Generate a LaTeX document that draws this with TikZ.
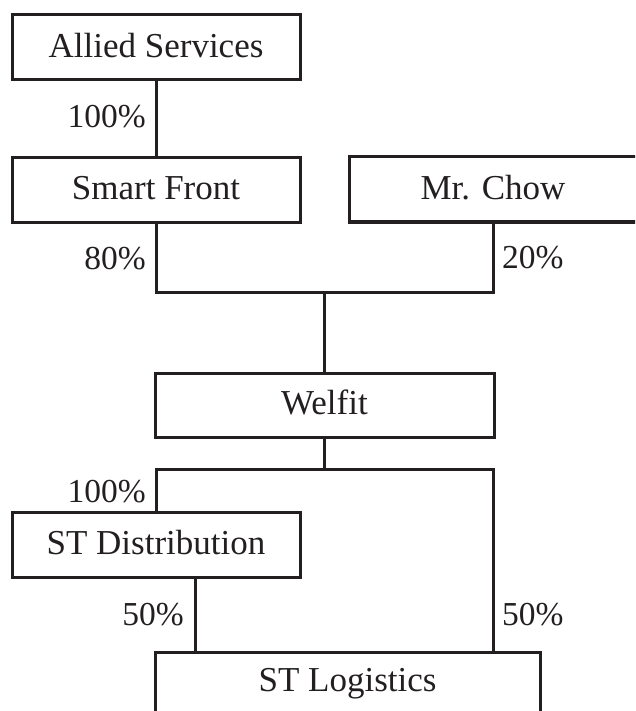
\documentclass[tikz,border=0pt]{standalone}
\usepackage{fontspec}
\setmainfont{Liberation Serif}
\definecolor{ink}{HTML}{231F20}
\begin{document}
\begin{tikzpicture}[x=1pt,y=-1pt,
  box/.style={draw=ink, line width=3pt, minimum width=288pt, minimum height=65pt, inner sep=0pt,
    text=ink, font=\fontsize{35}{42}\selectfont, text height=23.2pt, text depth=3.5pt},
  pct/.style={inner sep=0pt, text=ink, font=\fontsize{33.5}{40}\selectfont},
  link/.style={draw=ink, line width=3pt}]
\useasboundingbox (0,0) rectangle (635,711);
\clip (0,0) rectangle (635,711);
\node[box] (allied) at (156,47.5) {Allied Services};
\node[box] (smart) at (156,190) {Smart Front};
\node[box] (chow) at (493,189.5) {Mr. Chow};
\node[box, minimum width=339pt, minimum height=64pt] (welfit) at (324.5,405) {Welfit};
\node[box] (stdist) at (156,544.5) {ST Distribution};
\node[box, minimum width=385pt, minimum height=60pt] (stlog) at (347.5,682) {ST Logistics};
\coordinate (j1) at (324.5,292);
\coordinate (j2) at (324.5,469);
\coordinate (dr) at (493,469);
\coordinate (ds) at (195,577);
\draw[link] (allied.south) -- (smart.north);
\draw[link] (smart.south) |- (j1) -| (chow.south);
\draw[link] (j1) -- (welfit.north);
\draw[link] (welfit.south) -- (j2);
\draw[link] (stdist.north) |- (dr) -- (dr |- stlog.north);
\draw[link] (stdist.south -| ds) -- (ds |- stlog.north);
\node[pct, anchor=base east] (p1) at (146,128) {100\%};
\node[pct, anchor=base east] (p2) at (146,269) {80\%};
\node[pct, anchor=base west] (p3) at (502,268) {20\%};
\node[pct, anchor=base east] (p4) at (146,502) {100\%};
\node[pct, anchor=base east] (p5) at (184,625) {50\%};
\node[pct, anchor=base west] (p6) at (502,625) {50\%};
\end{tikzpicture}
\end{document}
